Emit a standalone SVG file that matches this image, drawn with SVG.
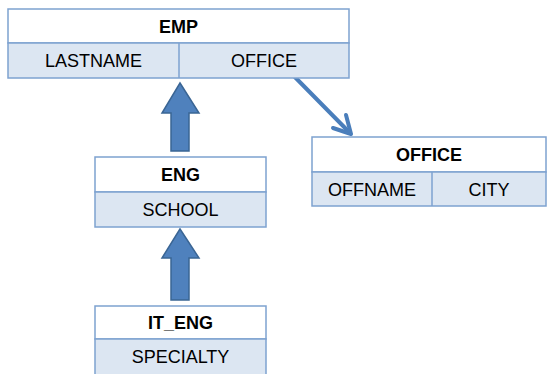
<svg xmlns="http://www.w3.org/2000/svg" width="547" height="374" viewBox="0 0 547 374">
<style>
.hdr{fill:#ffffff;stroke:#7ea2d0;stroke-width:1.5}
.fld{fill:#dce6f2;stroke:#7ea2d0;stroke-width:1.5}
.div{stroke:#7ea2d0;stroke-width:1.5}
text{font-family:"Liberation Sans",Arial,sans-serif;font-size:18px;fill:#000;text-anchor:middle}
.b{font-weight:bold}
.fat{fill:#4f81bd;stroke:#3a6594;stroke-width:1.5}
.thin{fill:none;stroke:#4a7ebb;stroke-width:4;stroke-linecap:round;stroke-linejoin:round}
</style>
<rect width="547" height="374" fill="#ffffff"/>
<g id="connectors">
<polygon class="fat" points="180,83 199,113 189,113 189,151 171,151 171,113 162,113"/>
<polygon class="fat" points="180,229 199,258 189,258 189,300 171,300 171,258 162,258"/>
<path class="thin" d="M285,67 L350,133"/>
<path class="thin" d="M333,128 L351,134 L346,115"/>
</g>
<g id="EMP">
<rect class="hdr" x="8" y="9" width="341" height="34"/>
<rect class="fld" x="8" y="43" width="341" height="35"/>
<line class="div" x1="179" y1="43" x2="179" y2="78"/>
<text class="b" x="178.5" y="32.5">EMP</text>
<text x="93.5" y="67">LASTNAME</text>
<text x="264" y="67">OFFICE</text>
</g>
<g id="ENG">
<rect class="hdr" x="95" y="157" width="171" height="35"/>
<rect class="fld" x="95" y="192" width="171" height="35"/>
<text class="b" x="180.5" y="181">ENG</text>
<text x="180.5" y="216">SCHOOL</text>
</g>
<g id="IT_ENG">
<rect class="hdr" x="95" y="306" width="171" height="33"/>
<rect class="fld" x="95" y="339" width="171" height="40"/>
<text class="b" x="180.5" y="329">IT_ENG</text>
<text x="180.5" y="363">SPECIALTY</text>
</g>
<g id="OFFICE">
<rect class="hdr" x="312" y="137" width="234" height="35"/>
<rect class="fld" x="312" y="172" width="234" height="34"/>
<line class="div" x1="432" y1="172" x2="432" y2="206"/>
<text class="b" x="429" y="161">OFFICE</text>
<text x="372" y="196">OFFNAME</text>
<text x="489" y="196">CITY</text>
</g>
</svg>
